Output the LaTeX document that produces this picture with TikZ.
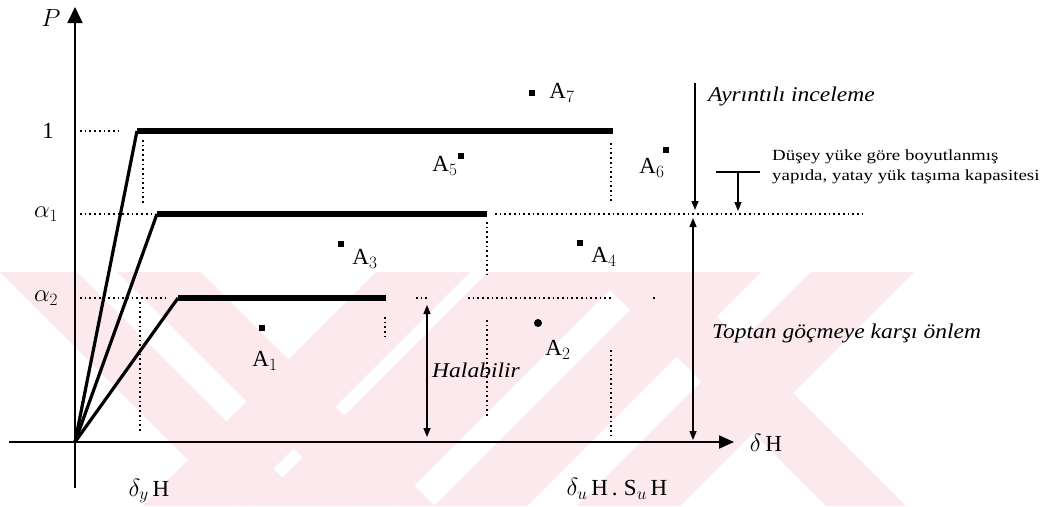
\documentclass[tikz,border=0pt]{standalone}
\usepackage{fontspec}
\setmainfont{Liberation Serif}
\newfontfamily\widefont[FakeStretch=1.12]{Liberation Serif}
\newfontfamily\widerfont[FakeStretch=1.22]{Liberation Serif}
\usetikzlibrary{arrows.meta}

\definecolor{wmark}{RGB}{252,233,237}

\tikzset{
  axisline/.style={line width=1.8pt},
  rise/.style={line width=3.2pt},
  plateau/.style={line width=5.8pt, line cap=butt},
  guide/.style={line width=1.7pt, dash pattern=on 1.7pt off 3pt},
  arr/.style={line width=1.4pt, -{Triangle[length=9pt,width=7pt]}},
  dblarr/.style={line width=1.4pt, {Triangle[length=9pt,width=7pt]}-{Triangle[length=9pt,width=7pt]}},
  lbl/.style={font=\fontsize{23}{27}\selectfont, inner sep=0pt},
  note/.style={font=\widefont\itshape\fontsize{21}{25}\selectfont, inner sep=0pt},
  smallnote/.style={font=\widerfont\fontsize{15.5}{20}\selectfont, inner sep=0pt, align=left},
  sqdot/.style={fill=black, minimum size=6pt, inner sep=0pt},
  rounddot/.style={circle, fill=black, minimum size=8pt, inner sep=0pt},
  wm/.style={fill=wmark},
}

\begin{document}
\begin{tikzpicture}[x=1pt,y=-1pt]
\useasboundingbox (0,0) rectangle (1046,506);

% faint crossed-band watermark behind the lower half
\begin{scope}
  \clip (0,272) rectangle (1046,506);
  % bands rising to the right
  \fill[wm] (376,272) -- (470,272) -- (236,506) -- (142,506) -- cycle;
  \fill[wm] (488,272) -- (628,272) -- (394,506) -- (254,506) -- cycle;
  \fill[wm] (668,272) -- (761,272) -- (527,506) -- (434,506) -- cycle;
  \fill[wm] (811,272) -- (914,272) -- (680,506) -- (577,506) -- cycle;
  % bands falling to the right
  \fill[wm] (0,272) -- (77,272) -- (311,506) -- (234,506) -- cycle;
  \fill[wm] (117,272) -- (201,272) -- (435,506) -- (351,506) -- cycle;
  \fill[wm] (592,272) -- (672,272) -- (906,506) -- (826,506) -- cycle;
\end{scope}

% reference points
\coordinate (O) at (75,442);
\coordinate (ytop) at (75,7);
\coordinate (ybot) at (75,488);
\coordinate (xleft) at (9,442);
\coordinate (xright) at (734,442);

% axes
\draw[axisline, -{Triangle[length=16pt,width=15pt]}] (ybot) -- (ytop);
\draw[axisline, -{Triangle[length=15pt,width=13pt]}] (xleft) -- (xright);

% capacity curves
\coordinate (c1a) at (137,131); \coordinate (c1b) at (613,131);
\coordinate (c2a) at (157,214); \coordinate (c2b) at (487,214);
\coordinate (c3a) at (178,298); \coordinate (c3b) at (386,298);
\draw[rise] (O) -- (c1a);
\draw[rise] (O) -- (c2a);
\draw[rise] (O) -- (c3a);
\draw[plateau] (c1a) -- (c1b);
\draw[plateau] (c2a) -- (c2b);
\draw[plateau] (c3a) -- (c3b);

% dotted guide lines
\draw[guide] (80,131) -- (120,131);
\draw[guide] (143,140) -- (143,203);
\draw[guide] (80,214) -- (155,214);
\draw[guide] (495,214) -- (862,214);
\draw[guide] (80,298) -- (166,298);
\draw[guide] (140,302) -- (140,432);
\draw[guide] (385,317) -- (385,337);
\draw[guide] (416,298) -- (428,298);
\draw[guide] (468,298) -- (612,298);
\draw[guide] (653,298) -- (657,298);
\draw[guide] (487,222) -- (487,275);
\draw[guide] (487,320) -- (487,416);
\draw[guide] (611,143) -- (611,203);
\draw[guide] (611,350) -- (611,435);

% range arrows
\coordinate (h1) at (427,305); \coordinate (h2) at (427,437);
\draw[dblarr] (h1) -- (h2);
\coordinate (r1) at (695,83); \coordinate (r2) at (695,210);
\draw[arr] (r1) -- (r2);
\coordinate (t1) at (693,218); \coordinate (t2) at (693,440);
\draw[dblarr] (t1) -- (t2);
\coordinate (bl) at (716,172); \coordinate (br) at (760,172);
\coordinate (bm) at (738,172); \coordinate (bt) at (738,211);
\draw[line width=1.4pt] (bl) -- (br);
\draw[arr] (bm) -- (bt);

% axis labels
\node[lbl] (lp) at (51,18) {$P$};
\node[lbl] (l1) at (48,131) {1};
\node[lbl] (la1) at (46,214) {$\alpha_1$};
\node[lbl] (la2) at (46,298) {$\alpha_2$};
\node[lbl] (ldy) at (149,491) {$\delta_y$\,H};
\node[lbl] (ldu) at (617,489) {$\delta_u$\,H\,.\;S$_u$\,H};
\node[lbl] (ldh) at (766,443) {$\delta$\,H};

% notes
\node[note, anchor=west] (nay) at (708,96) {Ayrıntılı inceleme};
\node[smallnote, anchor=west] (ndu) at (772,167) {Düşey yüke göre boyutlanmış\\yapıda, yatay yük taşıma kapasitesi};
\node[note, anchor=west] (nto) at (712,333) {Toptan göçmeye karşı önlem};
\node[note] (nha) at (476,370) {Halabilir};

% performance points
\node[sqdot] (p7) at (532,93) {};
\node[lbl] (a7) at (562,93) {A$_7$};
\node[sqdot] (p5) at (461,156) {};
\node[lbl] (a5) at (445,166) {A$_5$};
\node[sqdot] (p6) at (666,150) {};
\node[lbl] (a6) at (652,168) {A$_6$};
\node[sqdot] (p3) at (341,244) {};
\node[lbl] (a3) at (365,259) {A$_3$};
\node[sqdot] (p4) at (580,243) {};
\node[lbl] (a4) at (604,257) {A$_4$};
\node[sqdot] (p1) at (262,328) {};
\node[lbl] (a1) at (265,361) {A$_1$};
\node[rounddot] (p2) at (538,323) {};
\node[lbl] (a2) at (558,350) {A$_2$};
\end{tikzpicture}
\end{document}
